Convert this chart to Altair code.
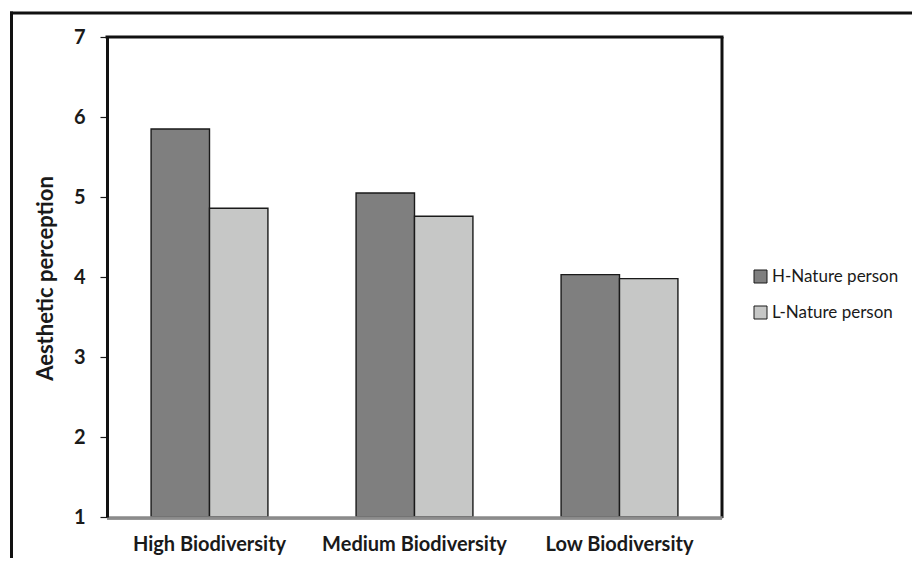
import altair as alt
import pandas as pd

categories = ["High Biodiversity", "Medium Biodiversity", "Low Biodiversity"]
groups = ["H-Nature person", "L-Nature person"]
h_values = [5.85, 5.05, 4.03]
l_values = [4.86, 4.76, 3.98]
y_ticks = [1, 2, 3, 4, 5, 6, 7]
colors = ["#7f7f7f", "#c6c7c6"]

rows = []
for c, h, l in zip(categories, h_values, l_values):
    rows.append({"cat": c, "group": groups[0], "value": h})
    rows.append({"cat": c, "group": groups[1], "value": l})
df = pd.DataFrame(rows)

FONT = "Lato"
W, H = 615, 480

bars = alt.Chart(df).mark_bar(stroke="#1a1a1a", strokeWidth=1.4).encode(
    x=alt.X("cat:N", sort=categories,
            scale=alt.Scale(paddingInner=0.43, paddingOuter=0.215),
            axis=alt.Axis(title=None, labelAngle=0, labelFont=FONT, labelFontSize=20,
                          labelFontWeight="bold", labelColor="#1a1a1a", ticks=False,
                          labelPadding=17, labelLimit=400, domainColor="#8a8a8a",
                          domainWidth=2.5, zindex=2)),
    xOffset=alt.XOffset("group:N", sort=groups, scale=alt.Scale(paddingInner=0, paddingOuter=0)),
    y=alt.Y("value:Q", scale=alt.Scale(domain=[1, 7], zero=False, nice=False),
            axis=alt.Axis(values=y_ticks, format="d", grid=False, title="Aesthetic perception",
                          titleFont=FONT, titleFontSize=22, titleFontWeight="bold",
                          titleColor="#1a1a1a", titleAngle=270, titleX=-62, titleY=241,
                          titleAlign="center", titleBaseline="middle",
                          labelFont=FONT, labelFontSize=20, labelFontWeight="bold",
                          labelColor="#1a1a1a", labelPadding=15, tickSize=7,
                          tickColor="#1a1a1a", tickWidth=1.2,
                          domainColor="#111111", domainWidth=3, zindex=2)),
    y2=alt.datum(1),
    color=alt.Color("group:N", sort=groups,
                    scale=alt.Scale(domain=groups, range=colors),
                    legend=alt.Legend(title=None, orient="none", legendX=645, legendY=231,
                                      symbolType="square", symbolSize=169,
                                      symbolStrokeColor="#1a1a1a", symbolStrokeWidth=1,
                                      labelFont=FONT, labelFontSize=17, labelColor="#1a1a1a",
                                      rowPadding=18, labelOffset=3, labelLimit=300, padding=0)),
)

one = alt.Data(values=[{}])

top_rule = alt.Chart(one).mark_rule(color="#111111", strokeWidth=3).encode(
    x=alt.value(-1.5), x2=alt.value(W + 1.5), y=alt.value(0))
right_rule = alt.Chart(one).mark_rule(color="#111111", strokeWidth=3).encode(
    x=alt.value(W), y=alt.value(0), y2=alt.value(H + 1))
bottom_dark = alt.Chart(one).mark_rule(color="#333333", strokeWidth=1).encode(
    x=alt.value(0), x2=alt.value(W), y=alt.value(H + 2))
frame_left = alt.Chart(one).mark_rule(color="#111111", strokeWidth=3).encode(
    x=alt.value(-95.5), y=alt.value(-25.5), y2=alt.value(560))
frame_top = alt.Chart(one).mark_rule(color="#111111", strokeWidth=3).encode(
    x=alt.value(-97), x2=alt.value(830), y=alt.value(-24))

chart = alt.layer(bars, bottom_dark, top_rule, right_rule, frame_left, frame_top).properties(
    width=W, height=H,
    autosize=alt.AutoSizeParams(type="none"),
    padding={"left": 99, "top": 29, "right": 190, "bottom": 41},
).configure_view(stroke=None).configure(background="white")

chart.save("out.html", embed_options={"renderer": "svg", "actions": False})
